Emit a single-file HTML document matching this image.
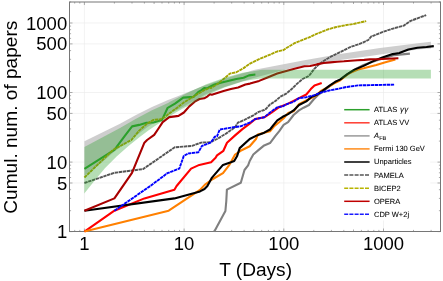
<!DOCTYPE html>
<html><head><meta charset="utf-8"><title>Cumulative number of papers</title>
<style>html,body{margin:0;padding:0;background:#fff;overflow:hidden}body{width:443px;height:281px;position:relative;font-family:"Liberation Sans",Arial,Helvetica,sans-serif}</style>
</head><body>
<svg width="443" height="281" viewBox="0 0 443 281" style="position:absolute;left:0;top:0;will-change:transform">
<path d="M84.4 2.0 V231.5 M184.1 2.0 V231.5 M283.8 2.0 V231.5 M383.5 2.0 V231.5 M69.5 183.0 H440.5 M69.5 162.1 H440.5 M69.5 113.4 H440.5 M69.5 92.5 H440.5 M69.5 43.9 H440.5 M69.5 23.0 H440.5" stroke="#e9e9e9" stroke-width="0.6" fill="none"/>
<path d="M74.7 231.5 v-1.6 M74.7 2.0 v1.6 M79.8 231.5 v-1.6 M79.8 2.0 v1.6 M84.4 231.5 v-3.0 M84.4 2.0 v3.0 M69.5 231.6 h3.0 M440.5 231.6 h-3.0 M114.4 231.5 v-1.6 M114.4 2.0 v1.6 M69.5 210.7 h1.6 M440.5 210.7 h-1.6 M132.0 231.5 v-1.6 M132.0 2.0 v1.6 M69.5 198.4 h1.6 M440.5 198.4 h-1.6 M144.4 231.5 v-1.6 M144.4 2.0 v1.6 M69.5 189.7 h1.6 M440.5 189.7 h-1.6 M154.1 231.5 v-2.0 M154.1 2.0 v2.0 M69.5 183.0 h3.0 M440.5 183.0 h-3.0 M162.0 231.5 v-1.6 M162.0 2.0 v1.6 M69.5 177.5 h1.6 M440.5 177.5 h-1.6 M168.7 231.5 v-1.6 M168.7 2.0 v1.6 M69.5 172.8 h1.6 M440.5 172.8 h-1.6 M174.4 231.5 v-1.6 M174.4 2.0 v1.6 M69.5 168.8 h1.6 M440.5 168.8 h-1.6 M179.5 231.5 v-1.6 M179.5 2.0 v1.6 M69.5 165.2 h1.6 M440.5 165.2 h-1.6 M184.1 231.5 v-3.0 M184.1 2.0 v3.0 M69.5 162.1 h3.0 M440.5 162.1 h-3.0 M214.1 231.5 v-1.6 M214.1 2.0 v1.6 M69.5 141.1 h1.6 M440.5 141.1 h-1.6 M231.7 231.5 v-1.6 M231.7 2.0 v1.6 M69.5 128.9 h1.6 M440.5 128.9 h-1.6 M244.1 231.5 v-1.6 M244.1 2.0 v1.6 M69.5 120.2 h1.6 M440.5 120.2 h-1.6 M253.8 231.5 v-2.0 M253.8 2.0 v2.0 M69.5 113.4 h3.0 M440.5 113.4 h-3.0 M261.7 231.5 v-1.6 M261.7 2.0 v1.6 M69.5 107.9 h1.6 M440.5 107.9 h-1.6 M268.4 231.5 v-1.6 M268.4 2.0 v1.6 M69.5 103.3 h1.6 M440.5 103.3 h-1.6 M274.1 231.5 v-1.6 M274.1 2.0 v1.6 M69.5 99.2 h1.6 M440.5 99.2 h-1.6 M279.2 231.5 v-1.6 M279.2 2.0 v1.6 M69.5 95.7 h1.6 M440.5 95.7 h-1.6 M283.8 231.5 v-3.0 M283.8 2.0 v3.0 M69.5 92.5 h3.0 M440.5 92.5 h-3.0 M313.8 231.5 v-1.6 M313.8 2.0 v1.6 M69.5 71.6 h1.6 M440.5 71.6 h-1.6 M331.4 231.5 v-1.6 M331.4 2.0 v1.6 M69.5 59.3 h1.6 M440.5 59.3 h-1.6 M343.8 231.5 v-1.6 M343.8 2.0 v1.6 M69.5 50.6 h1.6 M440.5 50.6 h-1.6 M353.5 231.5 v-2.0 M353.5 2.0 v2.0 M69.5 43.9 h3.0 M440.5 43.9 h-3.0 M361.4 231.5 v-1.6 M361.4 2.0 v1.6 M69.5 38.4 h1.6 M440.5 38.4 h-1.6 M368.1 231.5 v-1.6 M368.1 2.0 v1.6 M69.5 33.7 h1.6 M440.5 33.7 h-1.6 M373.8 231.5 v-1.6 M373.8 2.0 v1.6 M69.5 29.7 h1.6 M440.5 29.7 h-1.6 M378.9 231.5 v-1.6 M378.9 2.0 v1.6 M69.5 26.1 h1.6 M440.5 26.1 h-1.6 M383.5 231.5 v-3.0 M383.5 2.0 v3.0 M69.5 23.0 h3.0 M440.5 23.0 h-3.0 M413.5 231.5 v-1.6 M413.5 2.0 v1.6 M69.5 2.0 h1.6 M440.5 2.0 h-1.6 M431.1 231.5 v-1.6 M431.1 2.0 v1.6" stroke="#777" stroke-width="0.6" fill="none"/>
<rect x="69.5" y="2.0" width="371.0" height="229.5" fill="none" stroke="#767676" stroke-width="1"/>
<clipPath id="c"><rect x="68.5" y="1.0" width="373.0" height="231.7"/></clipPath>
<g clip-path="url(#c)" fill="none" stroke-linejoin="round" stroke-linecap="butt">
<path d="M84.4 141.2 L120.0 123.8 L136.0 115.0 L152.0 107.0 L168.0 100.1 L180.9 95.0 L200.0 87.2 L225.0 78.5 L254.8 69.8 L279.6 64.9 L304.4 60.2 L340.0 54.1 L380.0 47.9 L420.0 42.9 L430.9 41.8 L430.9 48.6 L420.0 49.3 L380.0 54.6 L370.0 56.0 L340.0 60.0 L333.0 61.0 L310.0 64.6 L295.0 67.5 L280.0 71.0 L250.0 79.0 L224.4 87.0 L206.3 94.0 L184.1 106.2 L164.0 117.0 L156.6 121.5 L147.5 127.0 L138.4 134.0 L130.7 139.5 L123.4 145.0 L114.4 151.5 L105.3 159.5 L96.2 166.8 L84.4 175.8Z" fill="#bdbdbd" fill-opacity="0.75" stroke="none"/>
<path d="M84.4 168.8 L114.4 149.8 L125.0 135.6 L132.1 126.4 L139.2 124.9 L146.4 122.8 L153.5 122.5 L162.0 119.9 L167.7 107.8 L175.0 103.6 L183.2 97.6 L193.4 96.9 L198.1 92.2 L201.5 90.2 L204.2 88.1 L206.9 88.4 L210.0 86.8 L214.5 84.5 L221.8 82.6 L229.0 80.8 L236.3 79.0 L243.6 77.7 L249.0 75.4 L255.4 74.5" stroke="#2ca02c" stroke-width="2.1"/>
<path d="M84.4 231.6 L114.4 210.7 L144.4 198.4 L174.4 189.7 L176.6 186.0 L191.1 168.6 L199.3 164.9 L211.1 162.2 L215.6 157.7 L217.0 155.4 L223.4 150.8 L227.0 142.7 L235.1 135.4 L242.4 129.1 L249.7 123.6 L255.1 119.1 L264.2 117.3 L270.0 113.6 L279.1 107.2 L288.1 103.6 L299.0 98.1 L306.3 94.5 L310.8 89.1 L314.5 85.4 L321.7 83.1" stroke="#ff0000" stroke-width="2.1"/>
<path d="M214.2 231.7 L225.4 211.0 L226.3 201.0 L226.9 189.6 L240.8 182.7 L244.5 170.0 L248.1 165.4 L249.7 161.0 L253.3 154.5 L258.7 149.9 L264.2 145.4 L270.0 143.1 L275.4 135.8 L279.1 131.3 L283.6 124.9 L288.1 122.2 L293.6 115.0 L299.0 110.4 L303.6 107.7 L309.0 105.0 L313.6 99.5 L318.1 95.0 L322.6 91.8 L329.9 86.0 L335.3 82.2 L340.0 79.9 L347.3 74.5 L356.3 68.7 L363.6 65.0 L376.3 60.5 L385.4 57.8 L394.4 55.1 L409.9 53.6" stroke="#808080" stroke-width="2.1"/>
<path d="M84.4 231.6 L168.7 210.7 L200.0 189.9 L204.7 184.9 L212.0 179.5 L223.0 173.1 L229.0 165.4 L231.5 161.0 L235.1 154.5 L240.6 150.8 L249.7 146.3 L256.0 139.0 L257.8 134.5 L264.2 132.7 L270.0 131.3 L274.5 125.9 L279.1 122.2 L283.6 118.2 L288.1 113.1 L293.6 111.3 L299.0 104.1 L306.3 100.4 L311.7 97.7 L316.3 95.4 L320.8 90.9 L328.1 87.2 L335.3 82.7 L340.0 80.5 L349.1 73.2 L358.1 69.6 L363.6 68.3 L376.3 65.0 L385.4 62.3 L395.4 59.6" stroke="#ff8000" stroke-width="2.1"/>
<path d="M84.4 210.7 L174.4 198.4 L200.0 191.4 L204.5 189.0 L207.4 186.0 L212.0 177.6 L223.0 164.9 L230.9 162.3 L234.2 161.0 L237.0 156.3 L239.7 148.1 L249.7 139.0 L256.9 135.4 L264.2 132.7 L270.0 129.5 L273.6 124.9 L277.3 120.4 L282.7 116.8 L288.1 114.1 L293.6 110.4 L299.0 105.0 L306.3 101.4 L311.7 96.8 L316.3 95.0 L322.6 90.9 L329.9 85.4 L335.3 81.8 L340.0 79.6 L347.3 74.1 L354.5 69.6 L363.6 65.9 L372.7 61.4 L381.7 57.8 L392.6 54.1 L399.3 53.0 L408.4 49.5 L417.4 47.7 L426.5 47.0 L433.8 46.1" stroke="#000" stroke-width="2.1"/>
<path d="M84.4 183.0 L114.4 172.8 L143.0 169.1 L174.8 147.3 L192.0 145.9 L201.1 142.6 L210.2 142.3 L217.0 139.0 L226.1 133.6 L235.1 127.2 L237.9 122.7 L244.2 120.0 L253.3 115.4 L258.7 111.8 L264.2 110.0 L266.0 108.9 L270.0 104.5 L275.4 101.0 L280.9 96.3 L286.3 93.6 L291.7 89.0 L297.2 83.6 L302.6 79.0 L308.1 76.3 L310.0 74.6 L314.1 69.1 L318.1 65.1 L323.6 61.0 L330.3 56.9 L337.1 53.6 L343.9 50.2 L350.7 46.8 L357.4 44.7 L364.2 42.0 L368.3 40.0 L371.2 36.5 L383.0 31.9 L393.9 28.3 L403.8 25.6 L410.2 21.1 L417.4 18.3 L426.2 15.1" stroke="#555" stroke-width="1.9" stroke-dasharray="3.4 0.6"/>
<path d="M84.4 177.5 L113.0 149.9 L131.4 140.0 L139.2 130.6 L146.4 124.2 L153.5 119.9 L160.6 119.2 L164.9 117.1 L169.2 113.5 L175.0 109.3 L177.1 107.8 L183.9 102.4 L190.7 98.3 L197.4 94.2 L204.2 90.2 L210.0 87.5 L210.9 88.1 L218.1 83.6 L223.6 79.0 L229.9 73.6 L236.3 72.3 L243.6 68.1 L250.0 63.6 L259.1 59.1 L268.1 55.4 L277.2 51.5 L283.6 50.0 L287.3 47.5 L294.8 43.0 L300.0 41.0 L309.1 37.4 L318.1 33.2 L327.2 29.6 L336.3 27.0 L345.4 25.2 L354.4 23.8 L366.2 21.1" stroke="#a8a400" stroke-width="1.9" stroke-dasharray="3.4 0.6"/>
<path d="M84.4 210.7 L114.4 198.4 L132.0 172.8 L144.4 142.7 L147.1 140.0 L154.2 134.9 L158.5 128.5 L162.7 122.1 L169.2 117.1 L175.0 116.4 L178.5 115.9 L183.9 112.5 L189.3 106.4 L194.7 101.7 L199.5 99.0 L204.2 98.3 L207.6 96.3 L210.0 94.2 L211.8 94.7 L223.6 91.0 L230.9 89.0 L238.1 87.5 L245.4 84.5 L250.0 83.6 L259.1 80.9 L268.1 77.2 L277.2 73.6 L286.3 70.9 L295.4 68.5 L304.4 66.3 L310.0 66.0 L316.8 64.4 L323.6 63.0 L330.3 62.4 L337.1 61.7 L343.9 61.3 L350.7 60.7 L357.4 60.3 L364.2 59.9 L370.0 59.4 L376.3 59.2 L398.4 58.3" stroke="#a80000" stroke-width="2.1"/>
<path d="M114.4 210.7 L150.3 186.0 L167.5 173.1 L179.3 168.6 L183.8 155.9 L188.4 153.5 L198.4 152.2 L202.0 145.9 L211.1 142.3 L214.7 136.8 L217.0 136.3 L219.7 129.6 L227.9 128.1 L240.6 126.3 L249.7 122.7 L255.1 119.1 L264.2 117.3 L270.0 112.6 L277.3 107.2 L282.7 106.3 L288.1 103.6 L293.6 101.8 L299.0 98.1 L306.3 97.2 L313.6 95.4 L320.8 92.7 L329.9 90.3 L339.0 88.7 L346.4 87.0 L358.1 85.4 L376.3 85.0 L394.4 84.6" stroke="#0000ff" stroke-width="1.9" stroke-dasharray="3.4 0.6"/>
<path d="M84.4 147.0 L120.0 127.9 L136.0 118.7 L152.0 110.2 L168.0 103.0 L170.0 101.8 L188.1 92.5 L206.3 84.2 L224.4 77.8 L242.6 72.8 L250.0 71.7 L262.0 69.8 L430.9 69.8 L430.9 78.6 L260.0 78.6 L250.0 80.0 L242.6 81.6 L224.4 87.5 L206.3 95.5 L190.0 104.9 L184.1 107.8 L172.9 114.2 L163.3 120.6 L149.0 130.0 L139.7 136.9 L128.2 146.2 L116.6 156.6 L105.1 168.1 L93.5 182.0 L84.3 193.4Z" fill="#2ca02c" fill-opacity="0.35" stroke="none"/>
</g>
<rect x="340.5" y="103.5" width="89.7" height="117" fill="#fff"/>
<path d="M344.2 109.7 H369.6" stroke="#2ca02c" stroke-width="1.5" fill="none"/>
<path d="M344.2 122.8 H369.6" stroke="#ff3b30" stroke-width="1.5" fill="none"/>
<path d="M344.2 135.9 H369.6" stroke="#999999" stroke-width="1.5" fill="none"/>
<path d="M344.2 148.9 H369.6" stroke="#ff8c1a" stroke-width="1.5" fill="none"/>
<path d="M344.2 162.0 H369.6" stroke="#000000" stroke-width="1.5" fill="none"/>
<path d="M344.2 175.1 H369.6" stroke="#555555" stroke-width="1.5" fill="none" stroke-dasharray="4 1.2"/>
<path d="M344.2 188.2 H369.6" stroke="#b8b400" stroke-width="1.5" fill="none" stroke-dasharray="4 1.2"/>
<path d="M344.2 201.3 H369.6" stroke="#c00000" stroke-width="1.5" fill="none"/>
<path d="M344.2 214.3 H369.6" stroke="#1a1aff" stroke-width="1.5" fill="none" stroke-dasharray="4 1.2"/>
<g font-family="'Liberation Sans', Arial, Helvetica, sans-serif" fill="#000">
<text x="67.2" y="238.1" text-anchor="end" font-size="18.5">1</text>
<text x="67.2" y="189.5" text-anchor="end" font-size="18.5">5</text>
<text x="67.2" y="168.6" text-anchor="end" font-size="18.5">10</text>
<text x="67.2" y="119.9" text-anchor="end" font-size="18.5">50</text>
<text x="67.2" y="99.0" text-anchor="end" font-size="18.5">100</text>
<text x="67.2" y="50.4" text-anchor="end" font-size="18.5">500</text>
<text x="67.2" y="29.5" text-anchor="end" font-size="18.5">1000</text>
<text x="84.4" y="250.2" text-anchor="middle" font-size="18.5">1</text>
<text x="184.1" y="250.2" text-anchor="middle" font-size="18.5">10</text>
<text x="283.8" y="250.2" text-anchor="middle" font-size="18.5">100</text>
<text x="383.5" y="250.2" text-anchor="middle" font-size="18.5">1000</text>
<text x="255.6" y="276" text-anchor="middle" font-size="19.1">T (Days)</text>
<text transform="translate(17.3,117.2) rotate(-90)" text-anchor="middle" font-size="19.1">Cumul. num. of papers</text>
<text x="374" y="112.15" font-size="7.5" stroke="#000" stroke-width="0.06" style="text-rendering:geometricPrecision">ATLAS <tspan font-style="italic" font-size="8" dx="0.6" letter-spacing="0.4">γγ</tspan></text>
<text x="374" y="125.23" font-size="7.5" stroke="#000" stroke-width="0.06" style="text-rendering:geometricPrecision">ATLAS VV</text>
<text x="374" y="138.31" font-size="7.5" stroke="#000" stroke-width="0.06" style="text-rendering:geometricPrecision"><tspan font-style="italic">A</tspan><tspan font-size="5.6" dy="1.6" dx="0.2">FB</tspan></text>
<text x="374" y="151.39" font-size="7.5" stroke="#000" stroke-width="0.06" style="text-rendering:geometricPrecision">Fermi 130 GeV</text>
<text x="374" y="164.47" font-size="7.5" stroke="#000" stroke-width="0.06" style="text-rendering:geometricPrecision">Unparticles</text>
<text x="374" y="177.55" font-size="7.5" stroke="#000" stroke-width="0.06" style="text-rendering:geometricPrecision">PAMELA</text>
<text x="374" y="190.63" font-size="7.5" stroke="#000" stroke-width="0.06" style="text-rendering:geometricPrecision">BICEP2</text>
<text x="374" y="203.71" font-size="7.5" stroke="#000" stroke-width="0.06" style="text-rendering:geometricPrecision">OPERA</text>
<text x="374" y="216.79" font-size="7.5" stroke="#000" stroke-width="0.06" style="text-rendering:geometricPrecision">CDP W+2j</text>
</g>
</svg>
</body></html>
